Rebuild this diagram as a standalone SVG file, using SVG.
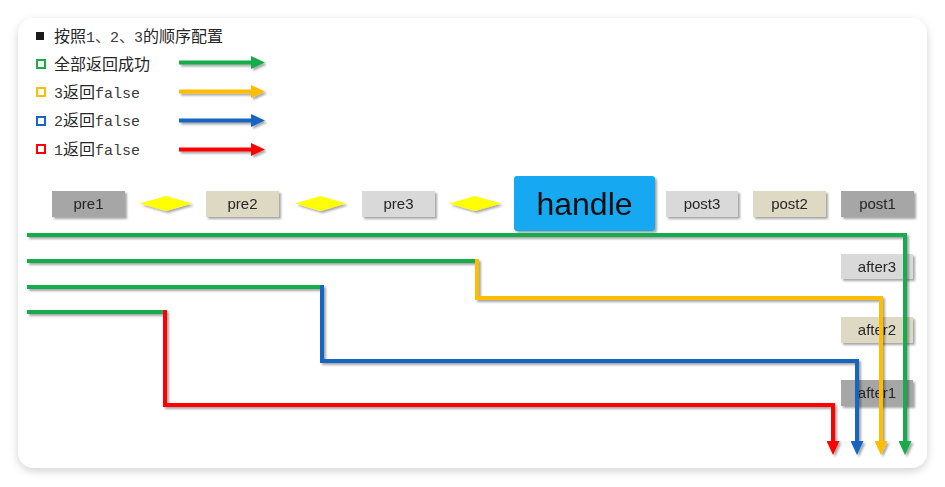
<svg xmlns="http://www.w3.org/2000/svg" width="945" height="487" viewBox="0 0 945 487">
<style>
.cjk{font-family:"Noto Sans CJK SC","Noto Sans",sans-serif;font-size:16px;fill:#262626}
.mono{font-family:"Liberation Mono","Noto Sans CJK SC",monospace;font-size:15px;fill:#3a3a3a}
.lbl{font-family:"Liberation Sans",Arial,sans-serif;font-size:15px;fill:#262626;text-anchor:middle}
.g1{fill:#a6a6a6}.g2{fill:#ddd9c3}.g3{fill:#d9d9d9}
.ln{fill:none;stroke-width:4;stroke-linejoin:miter}
.dia{fill:#ffff00}
</style>
<defs>
<filter id="card" x="-5%" y="-5%" width="110%" height="115%"><feDropShadow dx="0" dy="3" stdDeviation="4" flood-color="#000" flood-opacity="0.18"/></filter>
<filter id="sh" x="-10%" y="-10%" width="130%" height="140%"><feDropShadow dx="2" dy="2" stdDeviation="1.2" flood-color="#000" flood-opacity="0.35"/></filter>
<marker id="aG" viewBox="0 0 14 13" refX="1" refY="6.5" markerWidth="14" markerHeight="13" markerUnits="userSpaceOnUse" orient="auto"><path d="M0,0L14,6.5L0,13z" fill="#17ab4b"/></marker>
<marker id="aY" viewBox="0 0 14 13" refX="1" refY="6.5" markerWidth="14" markerHeight="13" markerUnits="userSpaceOnUse" orient="auto"><path d="M0,0L14,6.5L0,13z" fill="#ffbd00"/></marker>
<marker id="aB" viewBox="0 0 14 13" refX="1" refY="6.5" markerWidth="14" markerHeight="13" markerUnits="userSpaceOnUse" orient="auto"><path d="M0,0L14,6.5L0,13z" fill="#1565c0"/></marker>
<marker id="aR" viewBox="0 0 14 13" refX="1" refY="6.5" markerWidth="14" markerHeight="13" markerUnits="userSpaceOnUse" orient="auto"><path d="M0,0L14,6.5L0,13z" fill="#ff0000"/></marker>
</defs>
<rect width="945" height="487" fill="#ffffff"/>
<rect x="18" y="18" width="909" height="450" rx="16" fill="#ffffff" filter="url(#card)"/>

<g id="legend">
<rect x="36" y="32" width="8" height="8" fill="#1a1a1a"/>
<text x="54" y="42" class="cjk">按照<tspan class="mono">1、2、3</tspan>的顺序配置</text>
<rect x="37" y="60" width="8" height="8" fill="none" stroke="#17ab4b" stroke-width="2"/>
<text x="54" y="70" class="cjk">全部返回成功</text>
<rect x="37" y="88" width="8" height="8" fill="none" stroke="#ffbd00" stroke-width="2"/>
<text x="54" y="98" class="cjk"><tspan class="mono">3</tspan>返回<tspan class="mono">false</tspan></text>
<rect x="37" y="117" width="8" height="8" fill="none" stroke="#1565c0" stroke-width="2"/>
<text x="54" y="126" class="cjk"><tspan class="mono">2</tspan>返回<tspan class="mono">false</tspan></text>
<rect x="37" y="145" width="8" height="8" fill="none" stroke="#ff0000" stroke-width="2"/>
<text x="54" y="155" class="cjk"><tspan class="mono">1</tspan>返回<tspan class="mono">false</tspan></text>
<g filter="url(#sh)">
<path class="ln" d="M179,62.5H252" stroke="#17ab4b" marker-end="url(#aG)"/>
<path class="ln" d="M179,91.5H252" stroke="#ffbd00" marker-end="url(#aY)"/>
<path class="ln" d="M179,120.5H252" stroke="#1565c0" marker-end="url(#aB)"/>
<path class="ln" d="M179,149.5H252" stroke="#ff0000" marker-end="url(#aR)"/>
</g>
</g>

<g id="pre1" filter="url(#sh)"><rect x="52" y="191" width="73" height="26" class="g1"/><text x="88.5" y="209" class="lbl">pre1</text></g>
<g id="d1" filter="url(#sh)"><polygon class="dia" points="140,203.5 166,196 192,203.5 166,211"/></g>
<g id="pre2" filter="url(#sh)"><rect x="206" y="191" width="73" height="26" class="g2"/><text x="242.5" y="209" class="lbl">pre2</text></g>
<g id="d2" filter="url(#sh)"><polygon class="dia" points="295,203.5 320.5,196 346,203.5 320.5,211"/></g>
<g id="pre3" filter="url(#sh)"><rect x="362" y="191" width="73" height="26" class="g3"/><text x="398.5" y="209" class="lbl">pre3</text></g>
<g id="d3" filter="url(#sh)"><polygon class="dia" points="449,203.5 475,196 501,203.5 475,211"/></g>
<g id="handle" filter="url(#sh)"><rect x="514" y="176" width="141" height="55" rx="3" fill="#16a8f0"/><text x="584.5" y="215" class="lbl" style="font-size:32px;fill:#0d0d0d">handle</text></g>
<g id="post3" filter="url(#sh)"><rect x="666" y="191" width="72" height="26" class="g3"/><text x="702" y="209" class="lbl">post3</text></g>
<g id="post2" filter="url(#sh)"><rect x="753" y="191" width="73" height="26" class="g2"/><text x="789.5" y="209" class="lbl">post2</text></g>
<g id="post1" filter="url(#sh)"><rect x="841" y="191" width="73" height="26" class="g1"/><text x="877.5" y="209" class="lbl">post1</text></g>
<g id="after3" filter="url(#sh)"><rect x="841" y="254" width="72" height="25" class="g3"/><text x="877" y="272" class="lbl">after3</text></g>
<g id="after2" filter="url(#sh)"><rect x="841" y="317" width="72" height="26" class="g2"/><text x="877" y="335" class="lbl">after2</text></g>
<g id="after1" filter="url(#sh)"><rect x="841" y="380" width="72" height="26" class="g1"/><text x="877" y="398" class="lbl">after1</text></g>

<g id="connectors" filter="url(#sh)">
<path class="ln" d="M27,312H163" stroke="#17ab4b"/>
<path class="ln" d="M165,310V405H833V442" stroke="#ff0000" marker-end="url(#aR)"/>
<path class="ln" d="M27,287H320" stroke="#17ab4b"/>
<path class="ln" d="M322,285V361H857V442" stroke="#1565c0" marker-end="url(#aB)"/>
<path class="ln" d="M27,261H475" stroke="#17ab4b"/>
<path class="ln" d="M477,259V298H881V442" stroke="#ffbd00" marker-end="url(#aY)"/>
<path class="ln" d="M27,235H905V442" stroke="#17ab4b" marker-end="url(#aG)"/>
</g>
</svg>
